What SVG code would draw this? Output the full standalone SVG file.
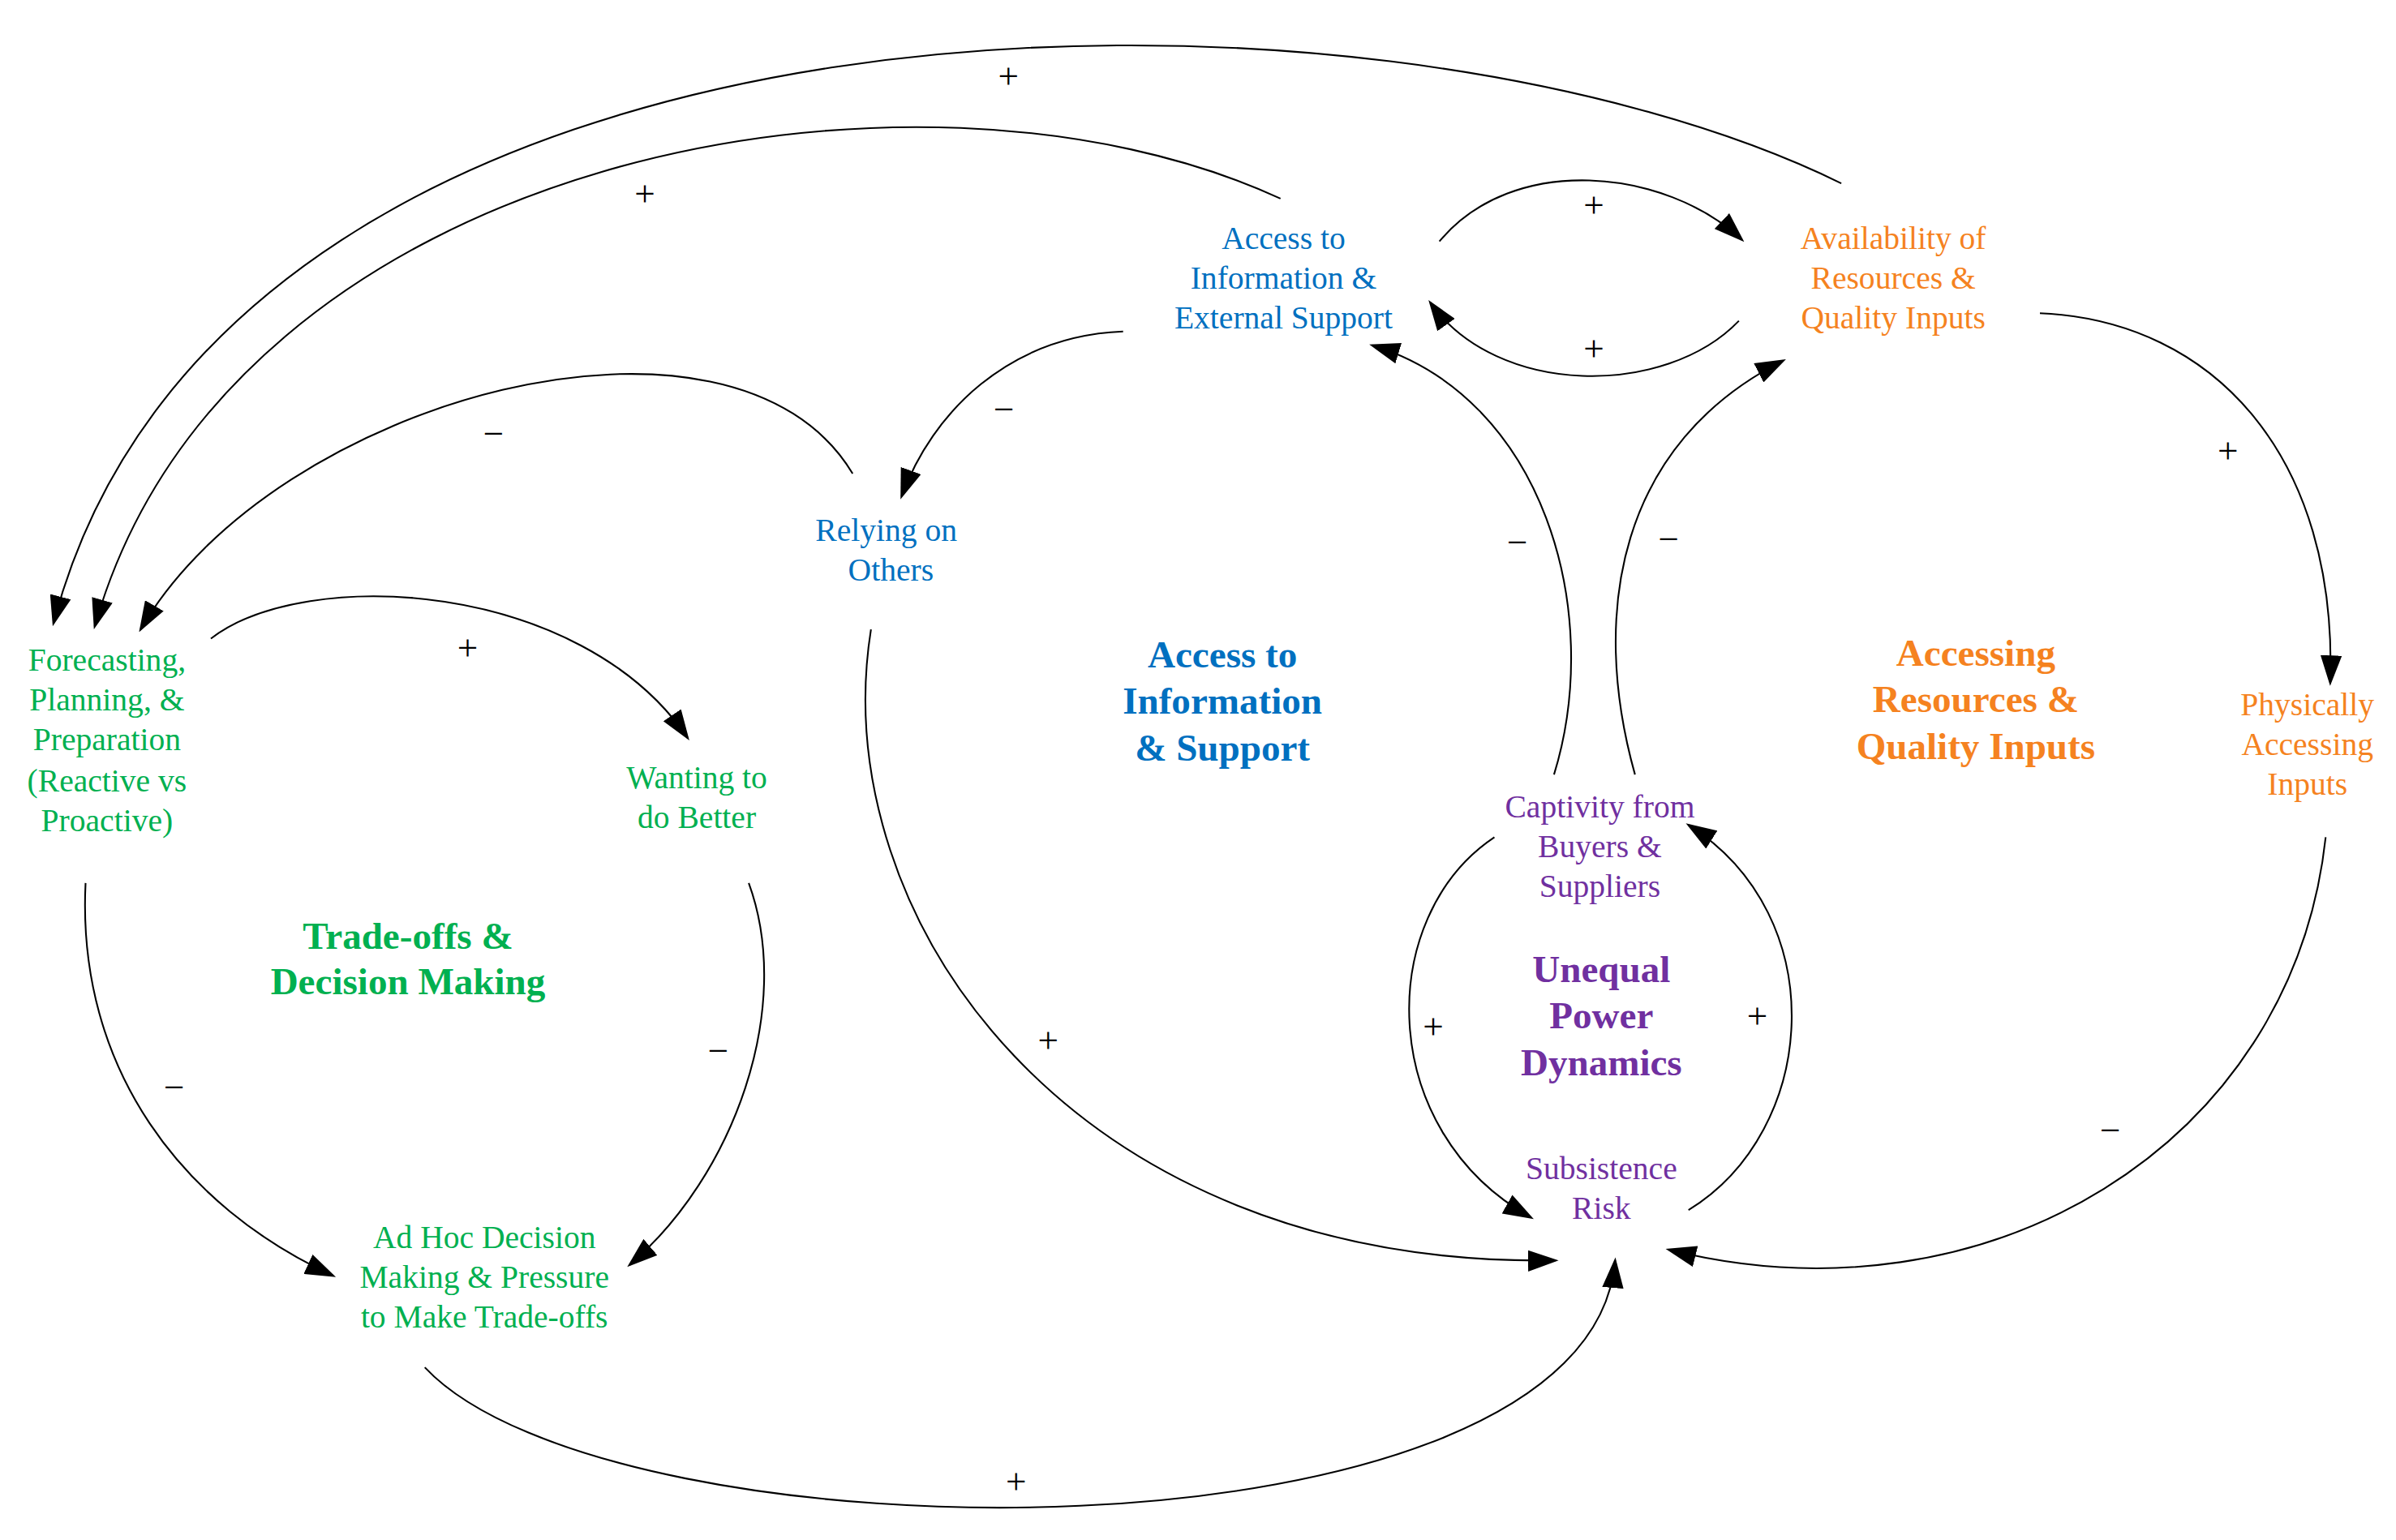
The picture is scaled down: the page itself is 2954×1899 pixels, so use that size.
<svg xmlns="http://www.w3.org/2000/svg" width="2954" height="1899" viewBox="0 0 2954 1899">
<style>
text{font-family:"Liberation Serif","Times New Roman",serif;text-anchor:middle}
.n{font-size:21px}
.t{font-size:25px;font-weight:bold}
.s{font-size:24px;font-family:"Liberation Sans",Arial,sans-serif;fill:#000}
.g{fill:#00b050}.b{fill:#0070c0}.o{fill:#f58220}.p{fill:#7030a0}
#connectors path{fill:none;stroke:#000;stroke-width:1.1;marker-end:url(#ah)}
</style>
<defs>
<marker id="ah" markerUnits="userSpaceOnUse" markerWidth="20" markerHeight="14" refX="18" refY="7" orient="auto">
<path d="M0,0 L20,7 L0,14 Z" fill="#000"/>
</marker>
</defs>
<rect width="2954" height="1899" fill="#fff"/>
<g transform="scale(1.8839)">
<g id="connectors">
<path d="M1205,120 C900,-30 150,-30 35,408"/>
<path d="M838,130 C600,20 150,100 62,410"/>
<path d="M558,310 C480,180 180,260 92,412"/>
<path d="M735,217 C660,220 610,270 590,325"/>
<path d="M942,158 C990,100 1090,110 1140,157"/>
<path d="M1138,210 C1090,260 980,260 936,198"/>
<path d="M1017,507 C1050,400 1010,260 898,226"/>
<path d="M1070,507 C1040,400 1060,290 1167,236"/>
<path d="M1335,205 C1450,210 1530,300 1525,447"/>
<path d="M1522,548 C1500,750 1300,870 1092,818"/>
<path d="M570,412 C540,600 700,830 1018,825"/>
<path d="M978,548 C900,600 900,740 1002,797"/>
<path d="M1105,792 C1190,740 1200,600 1105,540"/>
<path d="M278,895 C400,1025 1040,1030 1057,825"/>
<path d="M138,418 C200,370 380,380 450,483"/>
<path d="M490,578 C520,660 480,770 412,828"/>
<path d="M56,578 C50,700 120,790 218,835"/>
<g class="s">
<text x="660" y="58">+</text><text x="422" y="135">+</text><text x="323" y="292">−</text>
<text x="657" y="276">−</text><text x="1043" y="142">+</text><text x="1043" y="236">+</text>
<text x="993" y="363">−</text><text x="1092" y="361">−</text><text x="1458" y="303">+</text>
<text x="1381" y="748">−</text><text x="686" y="689">+</text><text x="938" y="680">+</text>
<text x="1150" y="673">+</text><text x="665" y="978">+</text><text x="306" y="432">+</text>
<text x="470" y="696">−</text><text x="114" y="720">−</text>
</g>
</g>
<g id="access-info" class="n b"><text x="840" y="163">Access to</text><text x="840" y="189">Information &amp;</text><text x="840" y="215">External Support</text></g>
<g id="availability" class="n o"><text x="1239" y="163">Availability of</text><text x="1239" y="189">Resources &amp;</text><text x="1239" y="215">Quality Inputs</text></g>
<g id="relying" class="n b"><text x="580" y="354">Relying on</text><text x="583" y="380">Others</text></g>
<g id="forecasting" class="n g"><text x="70" y="439">Forecasting,</text><text x="70" y="465">Planning, &amp;</text><text x="70" y="491">Preparation</text><text x="70" y="518">(Reactive vs</text><text x="70" y="544">Proactive)</text></g>
<g id="wanting" class="n g"><text x="456" y="516">Wanting to</text><text x="456" y="542">do Better</text></g>
<g id="adhoc" class="n g"><text x="317" y="817">Ad Hoc Decision</text><text x="317" y="843">Making &amp; Pressure</text><text x="317" y="869">to Make Trade-offs</text></g>
<g id="physically" class="n o"><text x="1510" y="468">Physically</text><text x="1510" y="494">Accessing</text><text x="1510" y="520">Inputs</text></g>
<g id="captivity" class="n p"><text x="1047" y="535">Captivity from</text><text x="1047" y="561">Buyers &amp;</text><text x="1047" y="587">Suppliers</text></g>
<g id="subsistence" class="n p"><text x="1048" y="772">Subsistence</text><text x="1048" y="798">Risk</text></g>
<g id="title-tradeoffs" class="t g"><text x="267" y="621">Trade-offs &amp;</text><text x="267" y="651">Decision Making</text></g>
<g id="title-access" class="t b"><text x="800" y="437">Access to</text><text x="800" y="467">Information</text><text x="800" y="498">&amp; Support</text></g>
<g id="title-resources" class="t o"><text x="1293" y="436">Accessing</text><text x="1293" y="466">Resources &amp;</text><text x="1293" y="497">Quality Inputs</text></g>
<g id="title-power" class="t p"><text x="1048" y="643">Unequal</text><text x="1048" y="673">Power</text><text x="1048" y="704">Dynamics</text></g>
</g>
</svg>
